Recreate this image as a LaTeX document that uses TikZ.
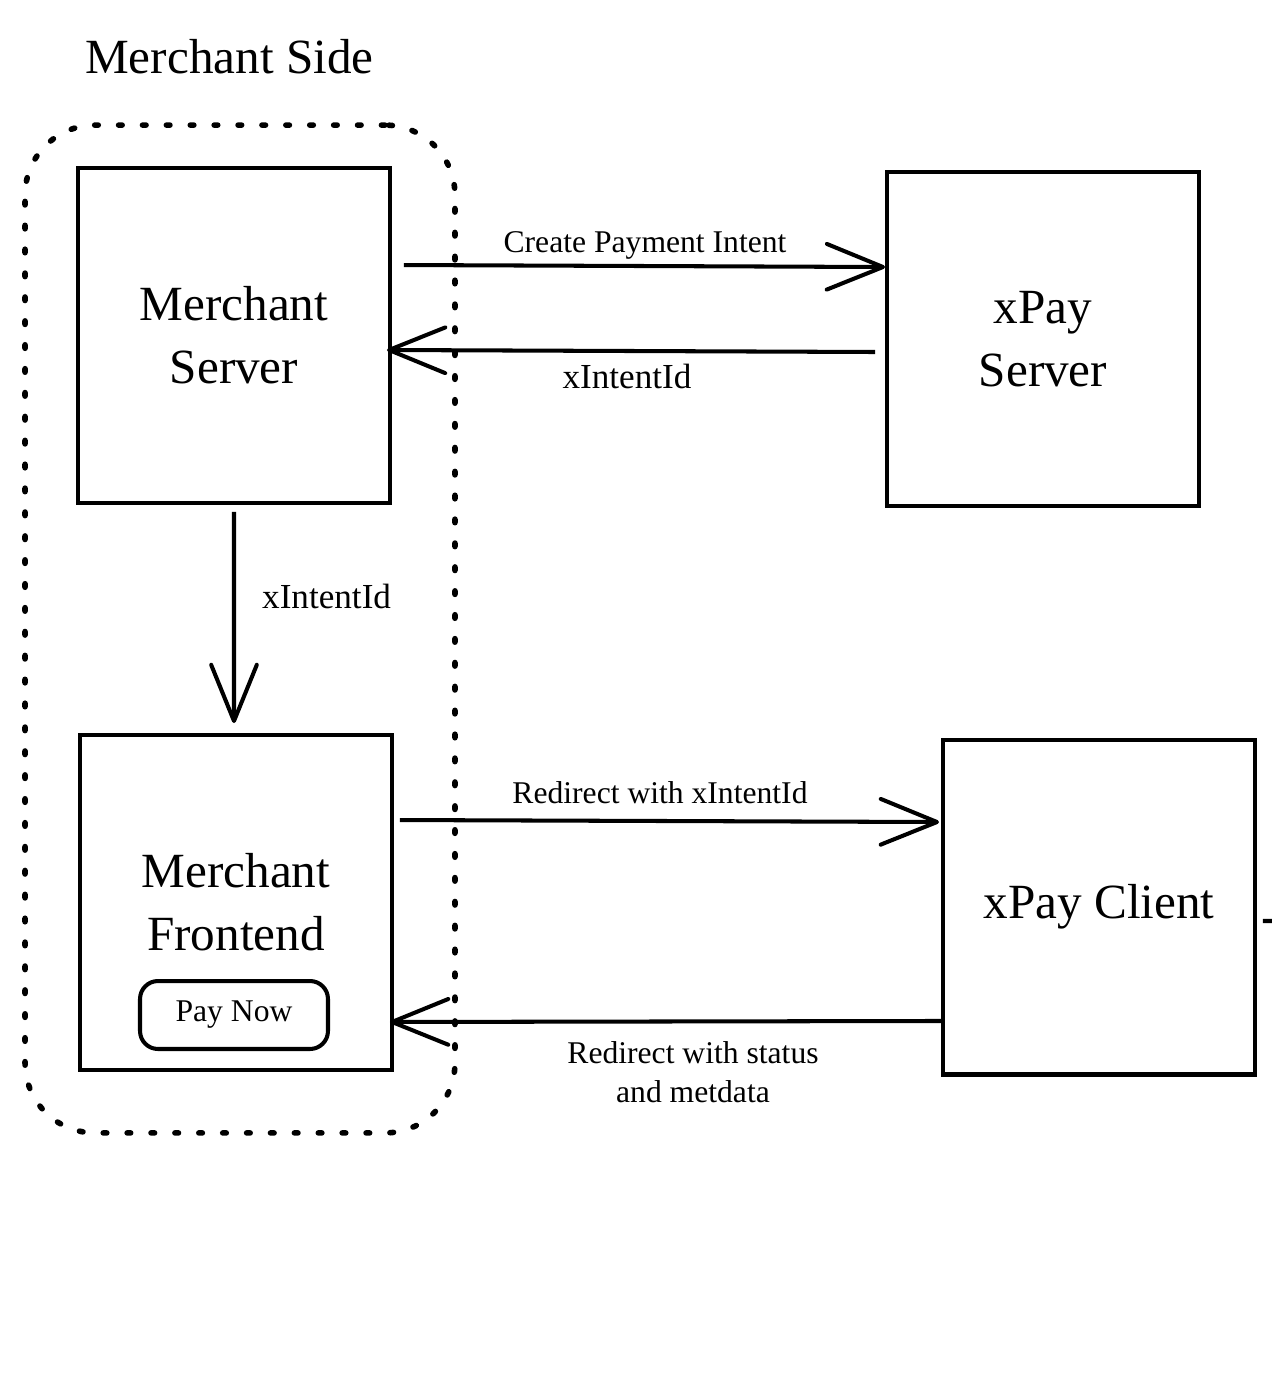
\documentclass[tikz,border=0pt]{standalone}
\usepackage{fontspec}
\setmainfont{Liberation Serif}
\usetikzlibrary{arrows.meta}
\tikzset{
  unit/.style={draw, line width=2.3pt, inner sep=0pt, minimum width=6.24cm, minimum height=6.7cm, align=center, font=\fontsize{28}{36}\selectfont},
  flow/.style={line width=2.3pt, -{Straight Barb[length=32pt,width=26pt,round]}},
  lbl/.style={anchor=base, font=\fontsize{18}{22}\selectfont},
  zone/.style={draw, line width=3.2pt, line cap=round, dash pattern=on 2pt off 11.6pt, rounded corners=1.4cm, minimum width=8.6cm, minimum height=20.16cm}
}
\begin{document}
\begin{tikzpicture}[x=0.02cm,y=-0.02cm]
\useasboundingbox (0,0) rectangle (1272,1384);
\node[anchor=base west, font=\fontsize{28}{34}\selectfont] (sidelbl) at (79,73) {Merchant Side};
\node[zone] (side) at (240,629) {};
\node[unit] (ms) at (234,335.5) {Merchant\\Server};
\node[unit] (xps) at (1043,339) {xPay\\Server};
\node[unit] (mf) at (236,902.5) {Merchant\\Frontend};
\node[draw, line width=2.3pt, rounded corners=0.36cm, minimum width=3.76cm, minimum height=1.36cm, font=\fontsize{18}{22}\selectfont] (pay) at (234,1015) {Pay Now};
\node[unit] (xpc) at (1099,907) {xPay Client};
\draw[flow] ([xshift=0.24cm,yshift=1.41cm]ms.east) -- ([yshift=1.44cm]xps.west);
\node[lbl] (lcpi) at (645,252) {Create Payment Intent};
\draw[flow] ([xshift=-0.2cm,yshift=-0.26cm]xps.west) -- ([xshift=-0.1cm,yshift=-0.29cm]ms.east);
\node[lbl, font=\fontsize{20}{24}\selectfont] (lid1) at (627,388) {xIntentId};
\draw[flow] ([yshift=-0.14cm]ms.south) -- ([xshift=-0.04cm,yshift=0.2cm]mf.north);
\node[lbl, anchor=base west, font=\fontsize{20}{24}\selectfont] (lid2) at (256,608) {xIntentId};
\draw[flow] ([xshift=0.12cm,yshift=1.65cm]mf.east) -- ([xshift=-0.04cm,yshift=1.7cm]xpc.west);
\node[lbl] (lrdx) at (660,803) {Redirect with xIntentId};
\draw[flow] ([yshift=-2.28cm]xpc.west) -- ([xshift=-0.08cm,yshift=-2.39cm]mf.east);
\node[lbl] (lrds) at (693,1063) {Redirect with status};
\node[lbl] (lrdm) at (693,1102) {and metdata};
\coordinate (rim) at (1272,921);
\draw[line width=2.3pt] ([xshift=0.12cm,yshift=-0.28cm]xpc.east) -- (rim);
\end{tikzpicture}
\end{document}
